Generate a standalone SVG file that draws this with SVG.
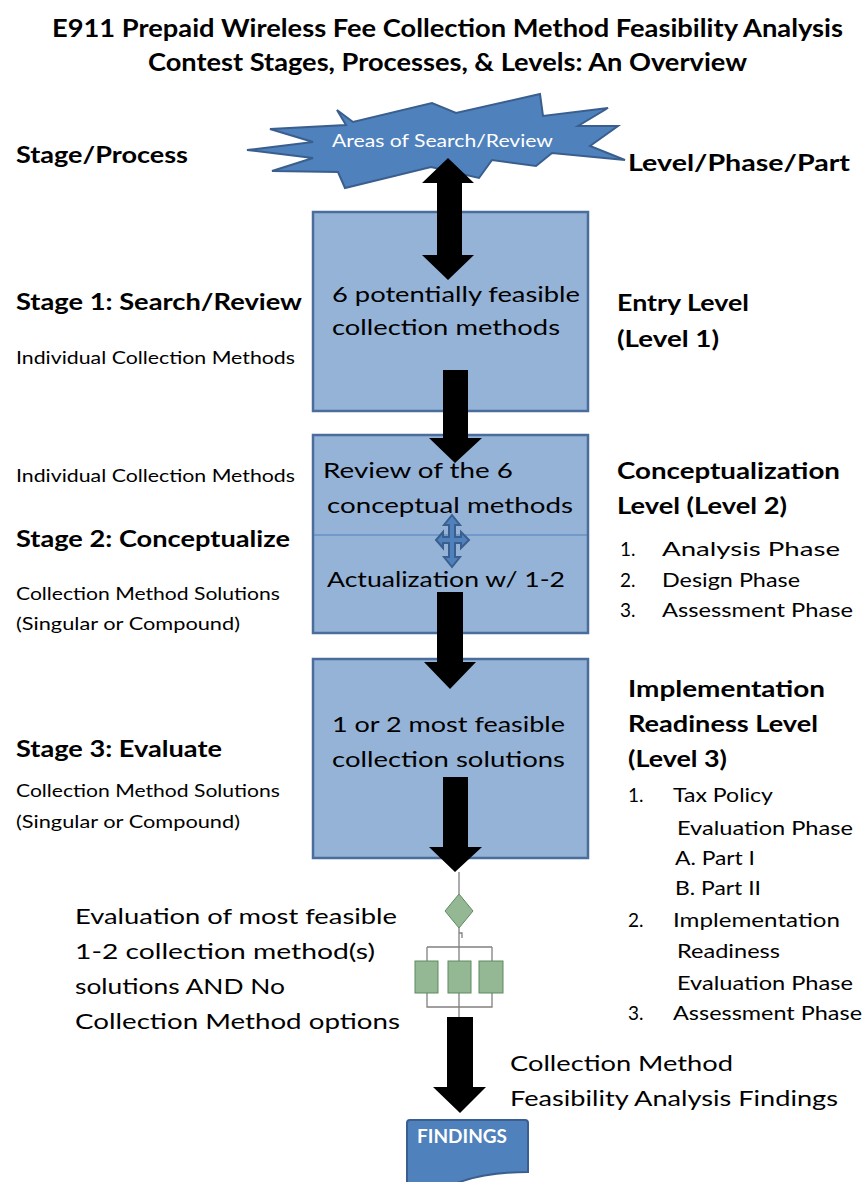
<svg xmlns="http://www.w3.org/2000/svg" width="865" height="1182" viewBox="0 0 865 1182">
<style>
text{font-family:Lato,"Liberation Sans",sans-serif;fill:#000}
.t{font-weight:bold;font-size:24px}
.h{font-weight:bold;font-size:22px}
.s{font-size:17px}
.l{font-size:19px}
.b{font-size:22px}
.w{fill:#fff}
.box{fill:#95b3d7;stroke:#4a6d9c;stroke-width:2.5}
.blue{fill:#4f81bd;stroke:#3a5f8e;stroke-width:2}
.arr{fill:#000}
.ln{stroke:#808080;stroke-width:1.3;fill:none}
.g{fill:#94b894;stroke:#5f8a5f;stroke-width:1}
</style>
<rect width="865" height="1182" fill="#fff"/>
<g id="title">
<text class="t" x="52" y="37" textLength="791" lengthAdjust="spacingAndGlyphs">E911 Prepaid Wireless Fee Collection Method  Feasibility Analysis</text>
<text class="t" x="148" y="71" textLength="599" lengthAdjust="spacingAndGlyphs">Contest Stages, Processes, &amp; Levels: An Overview</text>
</g>
<g id="left-labels">
<text class="h" x="16" y="163" textLength="172" lengthAdjust="spacingAndGlyphs">Stage/Process</text>
<text class="h" x="16" y="310" textLength="286" lengthAdjust="spacingAndGlyphs">Stage 1: Search/Review</text>
<text class="s" x="16" y="364" textLength="279" lengthAdjust="spacingAndGlyphs">Individual Collection  Methods</text>
<text class="s" x="16" y="482" textLength="279" lengthAdjust="spacingAndGlyphs">Individual Collection  Methods</text>
<text class="h" x="16" y="547" textLength="274" lengthAdjust="spacingAndGlyphs">Stage 2: Conceptualize</text>
<text class="s" x="16" y="600" textLength="264" lengthAdjust="spacingAndGlyphs">Collection Method Solutions</text>
<text class="s" x="16" y="630" textLength="224" lengthAdjust="spacingAndGlyphs">(Singular or Compound)</text>
<text class="h" x="16" y="757" textLength="206" lengthAdjust="spacingAndGlyphs">Stage 3: Evaluate</text>
<text class="s" x="16" y="797" textLength="264" lengthAdjust="spacingAndGlyphs">Collection Method Solutions</text>
<text class="s" x="16" y="828" textLength="224" lengthAdjust="spacingAndGlyphs">(Singular or Compound)</text>
</g>
<g id="right-labels">
<text class="h" x="628" y="171" textLength="222" lengthAdjust="spacingAndGlyphs">Level/Phase/Part</text>
<text class="h" x="617" y="311" textLength="132" lengthAdjust="spacingAndGlyphs">Entry Level</text>
<text class="h" x="617" y="347" textLength="102" lengthAdjust="spacingAndGlyphs">(Level 1)</text>
<text class="h" x="617" y="479" textLength="223" lengthAdjust="spacingAndGlyphs">Conceptualization</text>
<text class="h" x="617" y="514" textLength="170" lengthAdjust="spacingAndGlyphs">Level (Level 2)</text>
<text class="l" x="620" y="556">1.</text>
<text class="l" x="662" y="556" textLength="178" lengthAdjust="spacingAndGlyphs">Analysis Phase</text>
<text class="l" x="620" y="587">2.</text>
<text class="l" x="662" y="587" textLength="138" lengthAdjust="spacingAndGlyphs">Design Phase</text>
<text class="l" x="620" y="617">3.</text>
<text class="l" x="662" y="617" textLength="191" lengthAdjust="spacingAndGlyphs">Assessment Phase</text>
<text class="h" x="628" y="697" textLength="197" lengthAdjust="spacingAndGlyphs">Implementation</text>
<text class="h" x="628" y="732" textLength="190" lengthAdjust="spacingAndGlyphs">Readiness Level</text>
<text class="h" x="628" y="767" textLength="99" lengthAdjust="spacingAndGlyphs">(Level 3)</text>
<text class="l" x="628" y="802">1.</text>
<text class="l" x="673" y="802" textLength="100" lengthAdjust="spacingAndGlyphs">Tax Policy</text>
<text class="l" x="677" y="835" textLength="176" lengthAdjust="spacingAndGlyphs">Evaluation Phase</text>
<text class="l" x="675" y="865" textLength="80" lengthAdjust="spacingAndGlyphs">A. Part I</text>
<text class="l" x="675" y="895" textLength="86" lengthAdjust="spacingAndGlyphs">B. Part II</text>
<text class="l" x="628" y="927">2.</text>
<text class="l" x="673" y="927" textLength="167" lengthAdjust="spacingAndGlyphs">Implementation</text>
<text class="l" x="677" y="958" textLength="103" lengthAdjust="spacingAndGlyphs">Readiness</text>
<text class="l" x="677" y="990" textLength="176" lengthAdjust="spacingAndGlyphs">Evaluation Phase</text>
<text class="l" x="628" y="1020">3.</text>
<text class="l" x="673" y="1020" textLength="189" lengthAdjust="spacingAndGlyphs">Assessment Phase</text>
</g>
<g id="star">
<polygon class="blue" points="247,150 313,142 270,129 346,125 337,110 353,122 432,103 456,113 540,94 543,116 608,108 578,126 618,126 590,146 625,160 552,153 536,166 492,160 479,178 431,167 345,188 338,172 272,171 313,158"/>
<text class="s w" x="332" y="147" textLength="221" lengthAdjust="spacingAndGlyphs">Areas of Search/Review</text>
</g>
<g id="box1">
<rect class="box" x="313" y="212" width="275" height="199"/>
<text class="b" x="332" y="302" textLength="248" lengthAdjust="spacingAndGlyphs">6 potentially feasible</text>
<text class="b" x="332" y="335" textLength="228" lengthAdjust="spacingAndGlyphs">collection methods</text>
</g>
<g id="box2">
<rect class="box" x="313" y="435" width="275" height="198"/>
<line x1="314" y1="535" x2="587" y2="535" stroke="#4f81bd" stroke-width="1.2"/>
<text class="b" x="323" y="478" textLength="190" lengthAdjust="spacingAndGlyphs">Review  of the 6</text>
<text class="b" x="327" y="513" textLength="246" lengthAdjust="spacingAndGlyphs">conceptual methods</text>
<text class="b" x="327" y="587" textLength="238" lengthAdjust="spacingAndGlyphs">Actualization w/ 1-2</text>
<path class="blue" stroke-width="1.2" d="M452,515 L460,525 L455,525 L455,537 L461,537 L461,532 L469,540 L461,548 L461,543 L455,543 L455,557 L460,557 L452,567 L444,557 L449,557 L449,543 L443,543 L443,548 L436,540 L443,532 L443,537 L449,537 L449,525 L444,525 Z"/>
</g>
<g id="box3">
<rect class="box" x="313" y="659" width="275" height="199"/>
<text class="b" x="332" y="732" textLength="233" lengthAdjust="spacingAndGlyphs">1 or 2 most feasible</text>
<text class="b" x="332" y="767" textLength="233" lengthAdjust="spacingAndGlyphs">collection solutions</text>
</g>
<g id="flowchart">
<path class="ln" d="M459,872 V894 M459,928 V1017 M427,947 H492 M427,947 V1007 H492 V947 M459,933 h3 v5"/>
<polygon class="g" points="459,894 473,911 459,928 445,911"/>
<rect class="g" x="415" y="961" width="23" height="32"/>
<rect class="g" x="448" y="961" width="23" height="32"/>
<rect class="g" x="479" y="961" width="24" height="32"/>
</g>
<g id="eval-text">
<text class="b" x="75" y="924" textLength="322" lengthAdjust="spacingAndGlyphs">Evaluation of most feasible</text>
<text class="b" x="75" y="959" textLength="300" lengthAdjust="spacingAndGlyphs">1-2  collection method(s)</text>
<text class="b" x="75" y="994" textLength="210" lengthAdjust="spacingAndGlyphs">solutions AND No</text>
<text class="b" x="75" y="1029" textLength="325" lengthAdjust="spacingAndGlyphs">Collection Method options</text>
</g>
<g id="findings-text">
<text class="b" x="510" y="1071" textLength="223" lengthAdjust="spacingAndGlyphs">Collection Method</text>
<text class="b" x="510" y="1106" textLength="328" lengthAdjust="spacingAndGlyphs">Feasibility Analysis Findings</text>
</g>
<g id="findings">
<path class="blue" d="M410,1120 H525 Q528,1120 528,1123 V1172 Q480,1172 450,1186 H407 V1123 Q407,1120 410,1120 Z"/>
<text class="w" x="417" y="1143" font-weight="bold" font-size="18" textLength="90" lengthAdjust="spacingAndGlyphs">FINDINGS</text>
</g>
<g id="connectors">
<polygon class="arr" points="448,158 474,183 462,183 462,255 474,255 448,280 422,255 437,255 437,183 422,183"/>
<polygon class="arr" points="443,370 468,370 468,438 482,438 455,463 429,438 443,438"/>
<polygon class="arr" points="437,592 463,592 463,662 476,662 450,689 424,662 437,662"/>
<polygon class="arr" points="443,777 468,777 468,847 482,847 455,872 429,847 443,847"/>
<polygon class="arr" points="447,1017 473,1017 473,1087 486,1087 460,1113 433,1087 447,1087"/>
</g>
</svg>
